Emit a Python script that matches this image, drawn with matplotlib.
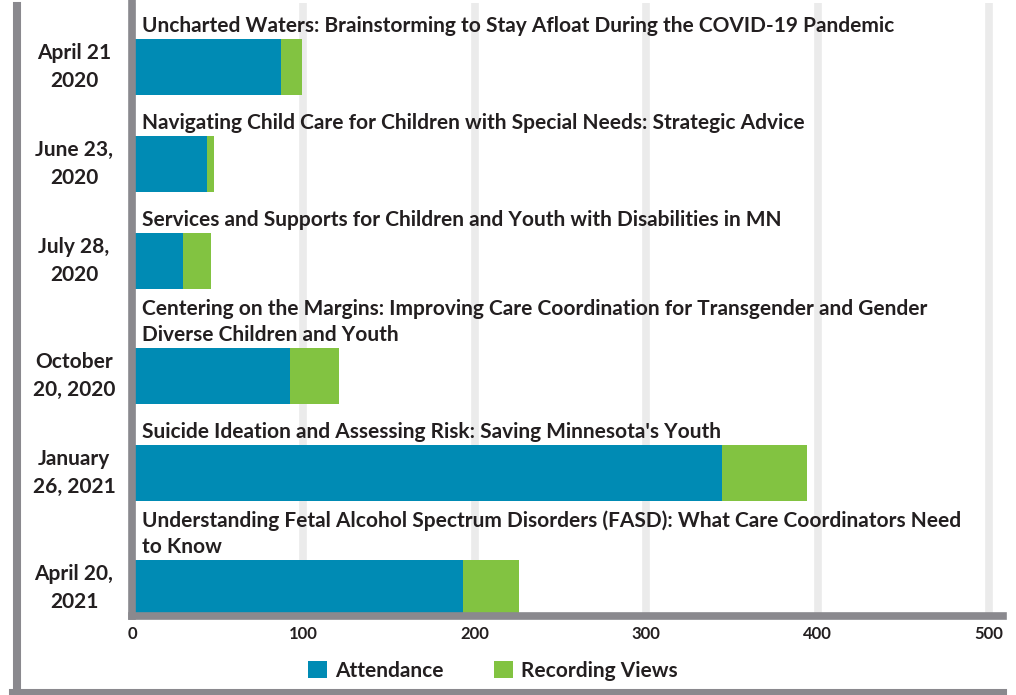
import matplotlib
matplotlib.use("Agg")
import matplotlib.pyplot as plt
import matplotlib.transforms as mtransforms
from matplotlib.lines import Line2D
from matplotlib.patches import Patch

# ---------------- data ----------------
dates = ["April 21\n2020", "June 23,\n2020", "July 28,\n2020",
         "October\n20, 2020", "January\n26, 2021", "April 20,\n2021"]
titles = [
    "Uncharted Waters: Brainstorming to Stay Afloat During the COVID-19 Pandemic",
    "Navigating Child Care for Children with Special Needs: Strategic Advice",
    "Services and Supports for Children and Youth with Disabilities in MN",
    "Centering on the Margins: Improving Care Coordination for Transgender and Gender\nDiverse Children and Youth",
    "Suicide Ideation and Assessing Risk: Saving Minnesota's Youth",
    "Understanding Fetal Alcohol Spectrum Disorders (FASD): What Care Coordinators Need\nto Know",
]
attendance = [87, 44, 30, 92, 344, 193]
recording_views = [12, 4, 16, 29, 50, 33]
xticks = [0, 100, 200, 300, 400, 500]
series_names = ["Attendance", "Recording Views"]

# ---------------- style ----------------
BLUE = "#008bb4"
GREEN = "#82c341"
SPINE = "#8a898e"
GRID = "#ebebeb"
TXT = "#231f20"
FONT = "Lato"

W, H = 1016, 695
fig = plt.figure(figsize=(W / 100, H / 100), dpi=100)
ax_left, ax_right, ax_top, ax_bottom = 132, 1003, 3, 616
ax = fig.add_axes([ax_left / W, 1 - ax_bottom / H,
                   (ax_right - ax_left) / W, (ax_bottom - ax_top) / H])

# y axis in pixel-like units (top = small), bars placed by title line count
bar_h = 56
centers = []
c = 67
for i, t in enumerate(titles):
    if i > 0:
        c += 97 if t.count("\n") == 0 else 115
    centers.append(c)

ax.barh(centers, attendance, height=bar_h, color=BLUE, zorder=2)
ax.barh(centers, recording_views, left=attendance, height=bar_h, color=GREEN, zorder=2)

ax.set_ylim(ax_bottom, ax_top)
ax.set_xlim(0, (ax_right - ax_left) / 1.714)

# titles above the bars
for cy, t in zip(centers, titles):
    lines = t.split("\n")
    top = cy - bar_h / 2
    for k, line in enumerate(reversed(lines)):
        ax.text(6, top - 7 - 26 * k, line, ha="left", va="baseline",
                fontsize=15, fontweight="bold", family=FONT, color=TXT, zorder=4)

# date labels
blend = mtransforms.blended_transform_factory(fig.transFigure, ax.transData)
for cy, d in zip(centers, dates):
    ax.text(74 / W, cy, d, transform=blend, ha="center", va="center",
            multialignment="center", fontsize=15, fontweight="bold",
            family=FONT, color=TXT, linespacing=1.45)

ax.set_yticks([])
ax.set_xticks(xticks)
ax.set_xticklabels([str(x) for x in xticks], fontsize=12, fontweight="bold",
                   family=FONT, color=TXT)
ax.tick_params(axis="x", length=0, pad=7)
ax.xaxis.grid(True, color=GRID, linewidth=5.5, zorder=1)
ax.set_axisbelow(True)

for s in ["top", "right"]:
    ax.spines[s].set_visible(False)
for s in ["left", "bottom"]:
    ax.spines[s].set_color(SPINE)
    ax.spines[s].set_linewidth(5.5)
    ax.spines[s].set_capstyle("projecting")
    ax.spines[s].set_zorder(3)

# outer frame lines (left and bottom)
pix = fig.transFigure
fig.add_artist(Line2D([17 / W, 17 / W], [1 - 6 / H, 0], color=SPINE,
                      linewidth=5.8, transform=pix))
fig.add_artist(Line2D([13 / W, 1003 / W], [1 - 693 / H, 1 - 693 / H],
                      color=SPINE, linewidth=5.8, transform=pix))

handles = [Patch(facecolor=BLUE, label=series_names[0]),
           Patch(facecolor=GREEN, label=series_names[1])]
fig.legend(handles=handles, loc="center", bbox_to_anchor=(493 / W, 1 - 671 / H),
           ncol=2, frameon=False, handlelength=0.9, handleheight=0.9,
           handletextpad=0.4, columnspacing=2.4,
           prop={"family": FONT, "weight": "bold", "size": 15},
           labelcolor=TXT)

fig.savefig("out.png", dpi=100)
